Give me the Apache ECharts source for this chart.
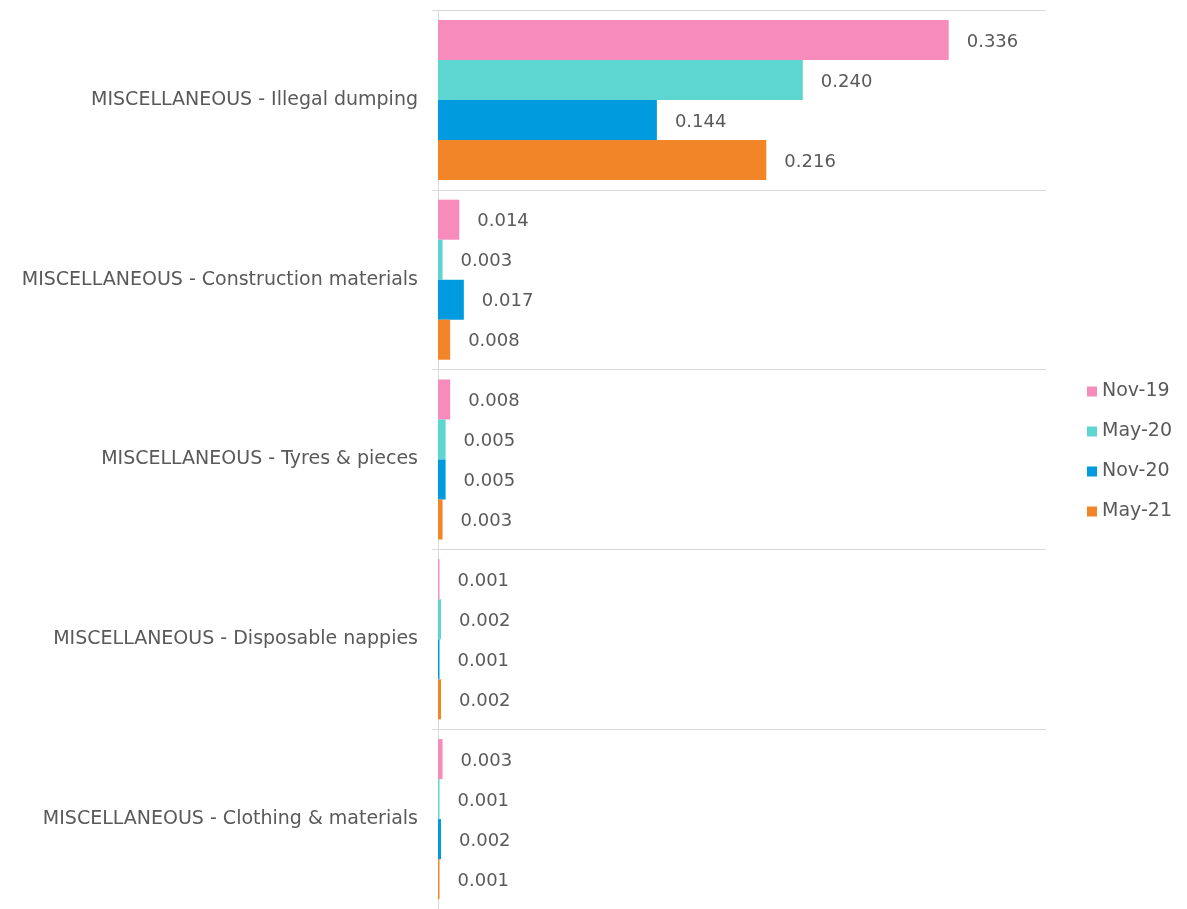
<!DOCTYPE html>
<html>
<head>
<meta charset="utf-8">
<script src="https://cdn.jsdelivr.net/npm/echarts@6/dist/echarts.min.js"></script>
<style>
  html, body { margin: 0; padding: 0; background: #fff; }
  #main { width: 1187px; height: 909px; }
</style>
</head>
<body>
<div id="main"></div>
<script>
// categories, top to bottom
var categories = [
    'MISCELLANEOUS - Illegal dumping',
    'MISCELLANEOUS - Construction materials',
    'MISCELLANEOUS - Tyres & pieces',
    'MISCELLANEOUS - Disposable nappies',
    'MISCELLANEOUS - Clothing & materials'
];
var seriesNames = ['Nov-19', 'May-20', 'Nov-20', 'May-21'];
var nov19 = [0.336, 0.014, 0.008, 0.001, 0.003];
var may20 = [0.240, 0.003, 0.005, 0.002, 0.001];
var nov20 = [0.144, 0.017, 0.005, 0.001, 0.002];
var may21 = [0.216, 0.008, 0.003, 0.002, 0.001];
var colors = ['#f78bbc', '#5dd5d0', '#009ade', '#f18527'];

var myChart = echarts.init(document.getElementById('main'));
var txt = '#595959';
var font = 'DejaVu Sans';

var allData = [nov19, may20, nov20, may21];
var series = [];
for (var i = 0; i < allData.length; i++) {
    series.push({
        name: seriesNames[i],
        type: 'bar',
        data: allData[i],
        barGap: 0,
        barCategoryGap: '11%',
        label: {
            show: true,
            position: 'right',
            distance: 18,
            offset: [0, 2],
            color: txt,
            fontFamily: font,
            fontSize: 18,
            formatter: function (p) { return p.value.toFixed(3); }
        }
    });
}

myChart.setOption({
    animation: false,
    color: colors,
    grid: {
        left: 438,
        right: 141,
        top: 10,
        bottom: -1
    },
    legend: {
        data: seriesNames,
        orient: 'vertical',
        left: 1087,
        top: 382,
        padding: 0,
        itemWidth: 10,
        itemHeight: 10,
        itemGap: 21,
        icon: 'rect',
        textStyle: { color: txt, fontFamily: font, fontSize: 19 }
    },
    xAxis: {
        type: 'value',
        min: 0,
        max: 0.4,
        show: false
    },
    yAxis: {
        type: 'category',
        inverse: true,
        data: categories,
        axisLine: { lineStyle: { color: '#d9d9d9' } },
        axisTick: { show: true, length: 6, lineStyle: { color: '#d9d9d9' } },
        splitLine: { show: true, lineStyle: { color: '#d9d9d9' } },
        axisLabel: { color: txt, fontFamily: font, fontSize: 19, margin: 20, padding: [4, 0, 0, 0] }
    },
    series: series
});
</script>
</body>
</html>
